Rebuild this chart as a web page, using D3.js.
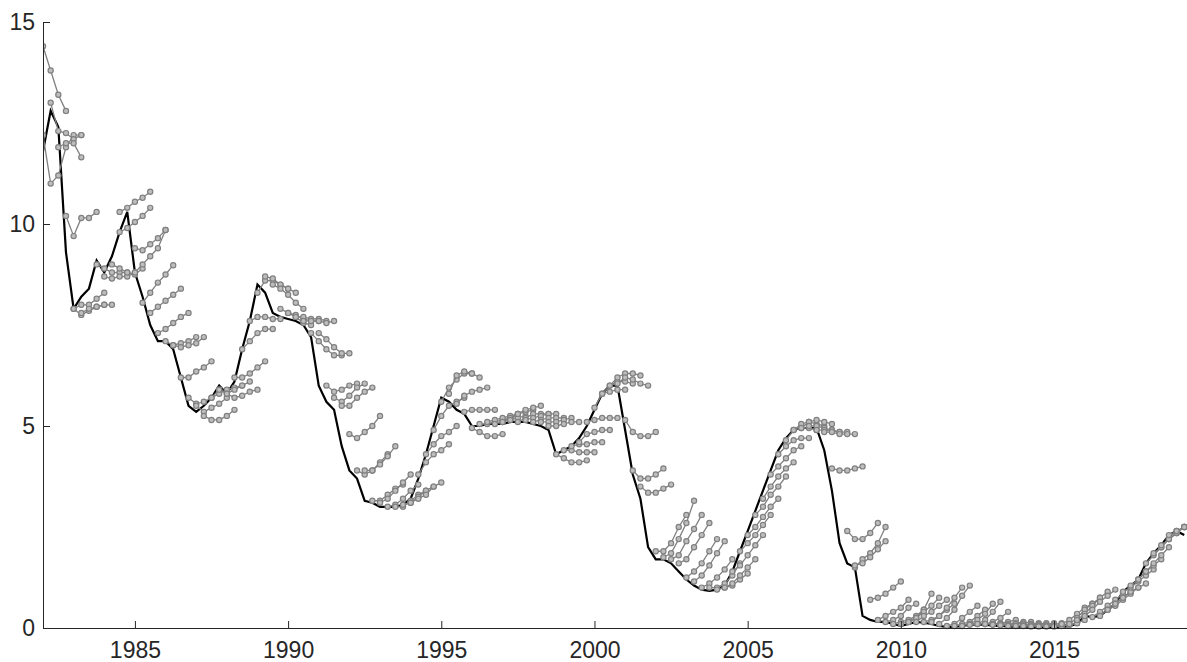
<!DOCTYPE html>
<html><head><meta charset="utf-8">
<script src="https://cdn.jsdelivr.net/npm/d3@7"></script>
<style>body{margin:0;background:#fff}text{font-family:"Liberation Sans",Arial,sans-serif}</style>
</head><body><div id="chart"></div>
<script>
// quarterly actual rate, starting 1982 Q1
var startYear = 1982;
var actual = [
 11.8,12.8,12.4,9.3, 7.9,8.2,8.4,9.1, 8.8,9.2,9.8,10.3, 8.8,8.2,7.5,7.1,
 7.1,6.9,6.2,5.5, 5.35,5.5,5.7,6.0, 5.8,6.1,6.9,7.6, 8.5,8.3,7.8,7.7,
 7.65,7.6,7.5,7.2, 6.0,5.6,5.4,4.5, 3.9,3.7,3.15,3.1, 3.0,3.0,3.0,3.05,
 3.2,3.7,4.3,5.0, 5.7,5.6,5.4,5.3, 5.0,5.0,5.05,5.05, 5.05,5.1,5.1,5.1,
 5.05,5.0,4.9,4.3, 4.4,4.5,4.7,5.0, 5.4,5.8,6.0,6.0, 4.9,3.8,3.2,2.0,
 1.7,1.7,1.6,1.4, 1.2,1.05,0.95,0.92, 0.95,1.05,1.4,1.9, 2.4,2.9,3.4,3.9,
 4.4,4.7,4.9,4.95, 4.95,4.95,4.4,3.4, 2.1,1.6,1.5,0.3, 0.2,0.15,0.15,0.1,
 0.05,0.1,0.15,0.13, 0.1,0.05,0.03,0.03, 0.05,0.08,0.09,0.08, 0.06,0.05,0.04,0.03,
 0.04,0.03,0.03,0.03, 0.03,0.02,0.05,0.1, 0.3,0.27,0.3,0.45, 0.6,0.9,1.05,1.2,
 1.6,1.85,2.05,2.3, 2.4,2.3
];
// forecast start dates and quarterly forecast paths
var fcStart = [
 1982.0,1982.0,1982.25,1982.5,1982.75,1983.0,1983.0,1983.25,1983.75,1984.0,
 1984.25,1984.5,1984.5,1985.0,1985.0,1985.25,1985.5,1985.75,1986.0,1986.25,
 1986.5,1986.75,1987.0,1987.25,1987.5,1987.75,1988.0,1988.25,1988.5,1988.75,
 1989.0,1989.25,1989.5,1989.75,1990.0,1990.25,1990.5,1990.75,1991.0,1991.25,
 1991.5,1991.75,1992.0,1992.25,1992.5,1992.75,1993.0,1993.25,1993.5,1993.75,
 1994.0,1994.25,1994.5,1994.75,1995.0,1995.25,1995.5,1995.75,1996.0,1996.25,
 1996.5,1996.75,1997.0,1997.25,1997.5,1997.75,1998.0,1998.25,1998.5,1998.75,
 1999.0,1999.25,1999.5,1999.75,2000.0,2000.25,2000.5,2000.75,2001.0,2001.25,
 2001.5,2002.0,2002.25,2002.5,2002.75,2003.0,2003.25,2003.5,2003.75,2004.0,
 2004.25,2004.5,2004.75,2005.0,2005.25,2005.5,2005.75,2006.0,2006.25,2006.5,
 2006.75,2007.0,2007.25,2007.5,2007.75,2008.25,2008.5,2008.5,2009.0,2009.25,
 2009.5,2009.75,2010.0,2010.25,2010.5,2010.75,2011.0,2011.25,2011.5,2011.75,
 2012.0,2012.25,2012.5,2012.75,2013.0,2013.25,2013.5,2013.75,2014.0,2014.25,
 2014.5,2014.75,2015.0,2015.25,2015.5,2015.75,2016.0,2016.25,2016.5,2016.75,
 2017.0,2017.25,2017.5,2017.75,2018.0,2018.25,2018.5,2018.75,2019.0
];
var fcPaths = [
 [14.4,13.8,13.2,12.8],[12.2,11.0,11.2,11.9,12.2,12.2],[13.0,12.3,12.25,12.1,12.2],[11.9,12.0,12.0,11.65],[10.2,9.7,10.15,10.15,10.3],
 [7.9,8.0,8.0,8.15,8.3],[7.9,7.75,7.85,7.95,8.0],[7.8,7.9,7.95,8.0,8.0],[9.0,8.9,8.8,8.8,8.8],[8.7,8.65,8.7,8.7,8.8],
 [9.0,8.9,8.8,8.75,8.9],[10.3,10.4,10.55,10.65,10.8],[9.8,9.9,10.05,10.2,10.4],[8.8,9.0,9.2,9.4,9.85],[9.4,9.35,9.5,9.65,9.85],
 [8.05,8.3,8.55,8.75,8.98],[7.8,7.95,8.1,8.25,8.4],[7.3,7.4,7.55,7.7,7.8],[7.1,7.0,7.05,7.1,7.2],[7.0,6.95,7.0,7.05,7.2],
 [6.2,6.2,6.35,6.45,6.6],[5.7,5.55,5.6,5.7,5.9],[5.5,5.35,5.45,5.55,5.7],[5.25,5.15,5.15,5.25,5.4],[5.7,5.8,5.9,5.95,6.0],
 [5.9,5.8,5.9,6.0,6.1],[5.8,5.7,5.75,5.85,5.9],[6.2,6.2,6.3,6.45,6.6],[6.9,7.1,7.3,7.4,7.4],[7.6,7.7,7.7,7.65,7.65],
 [8.3,8.6,8.6,8.5,8.4],[8.7,8.65,8.5,8.4,8.3],[8.5,8.4,8.25,8.05,7.9],[7.9,7.8,7.7,7.55,7.5],[7.8,7.75,7.65,7.6,7.6],
 [7.7,7.7,7.65,7.65,7.6],[7.6,7.6,7.6,7.55,7.6],[7.3,7.1,6.9,6.75,6.75],[7.3,7.15,6.95,6.8,6.8],[6.0,5.85,5.9,6.0,6.05],
 [5.7,5.6,5.75,5.95,6.05],[5.5,5.5,5.7,5.85,5.95],[4.8,4.7,4.85,5.0,5.25],[3.9,3.8,3.9,4.1,4.3],[3.9,3.9,4.05,4.25,4.5],
 [3.15,3.15,3.3,3.45,3.55],[3.1,3.2,3.4,3.6,3.8],[3.0,3.05,3.2,3.4,3.55],[3.0,3.0,3.15,3.3,3.4],[3.05,3.1,3.25,3.4,3.5],
 [3.1,3.2,3.3,3.5,3.6],[3.8,4.1,4.3,4.4,4.55],[4.3,4.55,4.75,4.85,5.0],[4.9,5.25,5.5,5.6,5.7],[5.6,5.95,6.15,6.3,6.3],
 [5.8,6.25,6.35,6.3,6.2],[5.55,5.75,5.85,5.9,5.95],[5.35,5.4,5.4,5.4,5.4],[4.95,4.85,4.75,4.75,4.8],[5.05,5.05,5.1,5.15,5.2],
 [5.1,5.15,5.2,5.25,5.3],[5.05,5.1,5.15,5.2,5.25],[5.1,5.2,5.3,5.35,5.4],[5.15,5.3,5.4,5.45,5.5],[5.1,5.2,5.3,5.3,5.3],
 [5.15,5.2,5.25,5.3,5.3],[5.1,5.15,5.2,5.2,5.2],[5.1,5.1,5.1,5.15,5.2],[5.0,5.0,5.05,5.1,5.1],[4.3,4.2,4.1,4.1,4.15],
 [4.4,4.4,4.35,4.35,4.35],[4.5,4.55,4.55,4.6,4.6],[4.6,4.8,4.85,4.9,4.9],[5.1,5.15,5.2,5.2,5.2],[5.45,5.8,5.85,5.9,5.9],
 [5.8,6.0,6.1,6.1,6.05],[6.0,6.2,6.3,6.3,6.25],[6.05,6.2,6.15,6.05,6.0],[5.15,4.85,4.75,4.75,4.85],[3.9,3.7,3.7,3.8,3.95],
 [3.5,3.35,3.35,3.45,3.55],[1.9,1.9,2.1,2.5,2.8],[1.75,1.85,2.2,2.6,3.15],[1.7,1.8,2.15,2.45,2.8],[1.6,1.7,2.0,2.3,2.6],
 [1.25,1.4,1.6,1.9,2.2],[1.15,1.3,1.55,1.85,2.15],[1.0,1.1,1.25,1.45,1.7],[1.0,1.0,1.1,1.3,1.6],[0.95,1.0,1.05,1.2,1.35],
 [1.0,1.1,1.3,1.5,1.7],[1.4,1.55,1.8,2.05,2.3],[1.9,2.1,2.3,2.55,2.8],[2.3,2.5,2.75,3.0,3.2],[2.8,3.0,3.3,3.5,3.75],
 [3.2,3.5,3.75,3.95,4.1],[3.8,4.0,4.2,4.4,4.5],[4.3,4.5,4.65,4.7,4.7],[4.65,4.9,4.95,4.95,4.9],[4.9,5.05,5.1,5.05,5.0],
 [4.95,5.1,5.15,5.1,5.05],[5.0,5.0,4.95,4.9,4.85],[4.9,4.9,4.9,4.85,4.85],[4.85,4.85,4.8,4.8,4.8],[3.95,3.9,3.9,3.95,4.0],
 [2.4,2.2,2.2,2.35,2.6],[1.5,1.7,1.85,2.1,2.5],[1.55,1.6,1.75,1.95,2.15],[0.7,0.75,0.85,1.0,1.15],[0.2,0.3,0.4,0.5,0.7],
 [0.15,0.2,0.3,0.5,0.6],[0.1,0.15,0.2,0.3,0.45],[0.1,0.15,0.25,0.45,0.85],[0.15,0.25,0.4,0.55,0.75],[0.15,0.3,0.4,0.55,0.7],
 [0.15,0.2,0.3,0.45,0.6],[0.15,0.3,0.5,0.75,1.0],[0.1,0.25,0.45,0.8,1.05],[0.05,0.1,0.25,0.4,0.55],[0.05,0.1,0.15,0.3,0.45],
 [0.05,0.1,0.2,0.35,0.6],[0.08,0.1,0.2,0.4,0.65],[0.1,0.1,0.15,0.25,0.4],[0.1,0.1,0.12,0.15,0.2],[0.08,0.1,0.1,0.12,0.15],
 [0.07,0.08,0.1,0.12,0.15],[0.05,0.06,0.08,0.1,0.12],[0.05,0.06,0.08,0.1,0.12],[0.05,0.05,0.07,0.09,0.12],[0.04,0.05,0.07,0.09,0.12],
 [0.04,0.05,0.06,0.08,0.1],[0.04,0.05,0.06,0.08,0.12],[0.04,0.05,0.08,0.12,0.2],[0.1,0.2,0.35,0.5,0.6],[0.1,0.25,0.45,0.6,0.75],
 [0.2,0.35,0.55,0.75,0.9],[0.3,0.45,0.65,0.8,0.95],[0.27,0.4,0.55,0.7,0.85],[0.3,0.45,0.6,0.75,0.9],[0.45,0.55,0.7,0.85,1.0],
 [0.6,0.75,0.9,1.0,1.1],[0.9,1.0,1.15,1.3,1.45],[1.05,1.2,1.4,1.55,1.7],[1.2,1.4,1.6,1.8,2.0],[1.6,1.8,2.0,2.2,2.35],
 [1.85,2.0,2.2,2.35,2.5],[2.05,2.2,2.35,2.5,2.6],[2.3,2.4,2.5,2.6,2.7],[2.4,2.5,2.55,2.6]
];
var xTicks = [1985,1990,1995,2000,2005,2010,2015];
var yTicks = [0,5,10,15];

var W = 1187, H = 662, L = 43, R = 1187, T = 22, B = 628;
var svg = d3.select("#chart").append("svg").attr("width", W).attr("height", H);
var x = d3.scaleLinear().domain([1982, 2019.34]).range([L, R]);
var y = d3.scaleLinear().domain([0, 15]).range([B, T]);

svg.append("clipPath").attr("id", "clip").append("rect")
  .attr("x", L).attr("y", 0).attr("width", R - L).attr("height", B + 4);
var plot = svg.append("g").attr("clip-path", "url(#clip)");

var line = d3.line().x(function(d){ return x(d[0]); }).y(function(d){ return y(d[1]); });
var act = actual.map(function(v, i){ return [startYear + i / 4, v]; });
plot.append("path").datum(act).attr("d", line)
  .attr("fill", "none").attr("stroke", "#000").attr("stroke-width", 2.2);

fcStart.forEach(function(s, k){
  var pts = fcPaths[k].map(function(v, i){ return [s + i / 4, v]; });
  var g = plot.append("g");
  g.append("path").datum(pts).attr("d", line)
    .attr("fill", "none").attr("stroke", "#808080").attr("stroke-width", 1.3);
  g.selectAll("circle").data(pts).enter().append("circle")
    .attr("cx", function(d){ return x(d[0]); }).attr("cy", function(d){ return y(d[1]); })
    .attr("r", 2.6).attr("fill", "#bdbdbd").attr("stroke", "#808080").attr("stroke-width", 1.2);
});

var xa = svg.append("g").attr("transform", "translate(0," + B + ")")
  .call(d3.axisBottom(x).tickValues(xTicks).tickFormat(d3.format("d")).tickSizeInner(-7).tickSizeOuter(0).tickPadding(14));
var ya = svg.append("g").attr("transform", "translate(" + L + ",0)")
  .call(d3.axisLeft(y).tickValues(yTicks).tickSizeInner(-7).tickSizeOuter(0).tickPadding(8));
[xa, ya].forEach(function(a){
  a.select(".domain").attr("stroke", "#262626");
  a.selectAll(".tick line").attr("stroke", "#262626");
  a.selectAll("text").attr("fill", "#262626").style("font-size", "23px");
});
</script></body></html>
